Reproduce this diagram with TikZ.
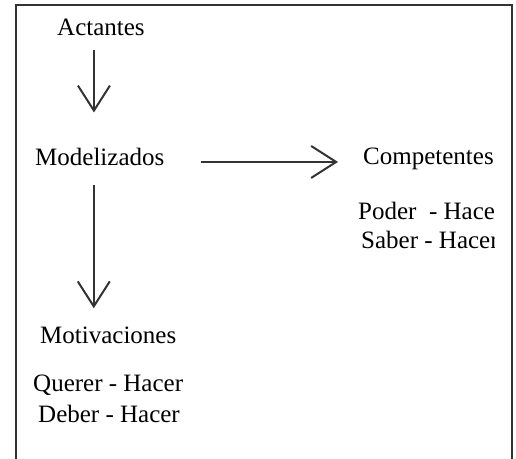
\documentclass[tikz,border=0pt]{standalone}
\usepackage{fontspec}
\setmainfont{Liberation Serif}
\usetikzlibrary{
    arrows.meta,
    positioning
}

\tikzset{
    word/.style={inner sep=0pt, anchor=base west, text=black, font=\fontsize{25}{30}\selectfont},
    arr/.style={draw=black!80, line width=2pt, -{Straight Barb[length=25pt, width=32pt]}}
}

\begin{document}
\begin{tikzpicture}[x=1pt, y=1pt]
    \useasboundingbox (0, 0) rectangle (516, -458);
    \draw[black!80, line width=2pt] (16, -470) -- (16, -5) -- (512, -5) -- (512, -470);

    \node[word] (act) at (57, -35) {Actantes};
    \node[word] (mod) at (35, -165) {Modelizados};
    \node[word] (mot) at (40, -343) {Motivaciones};
    \node[word] (querer) at (33, -391) {Querer - Hacer};
    \node[word] (deber) at (38, -422) {Deber - Hacer};
    % right column is cut off by its box
    \begin{scope}
        \clip (0, 0) rectangle (494, -458);
        \node[word] (comp) at (363, -164) {Competentes};
        \node[word] (poder) at (358, -219) {Poder\ \ - Hacer};
        \node[word] (saber) at (361, -248) {Saber - Hacer};
    \end{scope}

    \coordinate (va) at ([xshift=-7pt]act.south);
    \coordinate (vm) at ([xshift=-6pt]mod.south);
    \coordinate (hm) at ([yshift=-5.5pt]mod.east);
    \draw[arr, shorten <=15pt, shorten >=35pt] (va) -- (va |- mod.north);
    \draw[arr, shorten <=20pt, shorten >=18pt] (vm) -- (vm |- mot.north);
    \draw[arr, shorten <=36pt, shorten >=25pt] (hm) -- (hm -| comp.west);
\end{tikzpicture}
\end{document}
